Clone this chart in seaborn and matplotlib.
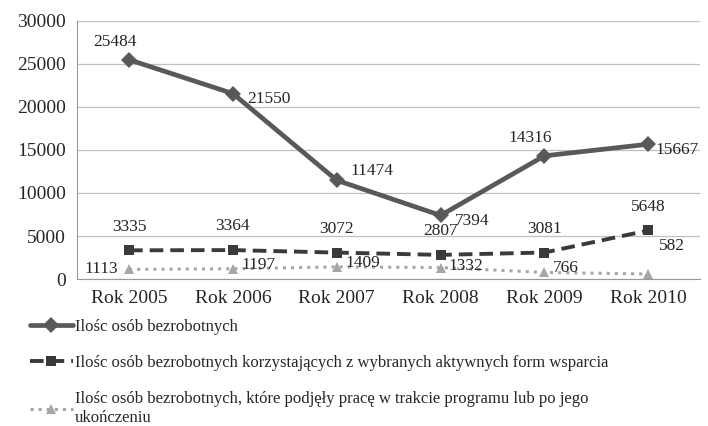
import matplotlib
matplotlib.use("Agg")
import matplotlib.pyplot as plt
import seaborn as sns
import pandas as pd

years = ["Rok 2005", "Rok 2006", "Rok 2007", "Rok 2008", "Rok 2009", "Rok 2010"]
bezrobotni = [25484, 21550, 11474, 7394, 14316, 15667]
aktywne_formy = [3335, 3364, 3072, 2807, 3081, 5648]
podjeli_prace = [1113, 1197, 1409, 1332, 766, 582]

names = ["Ilośc osób bezrobotnych",
         "Ilośc osób bezrobotnych korzystających z wybranych aktywnych form wsparcia",
         "Ilośc osób bezrobotnych, które podjęły pracę w trakcie programu lub po jego\nukończeniu"]

sns.set_style("white")
plt.rcParams['font.family'] = ['Liberation Serif', 'DejaVu Serif']

fig = plt.figure(figsize=(7.08, 4.26), dpi=100)
ax = fig.add_axes([0.109, 0.345, 0.88, 0.606])

df = pd.DataFrame({"rok": years, "s1": bezrobotni, "s2": aktywne_formy, "s3": podjeli_prace})
x = list(range(len(years)))

sns.lineplot(x=x, y=df["s1"], ax=ax, color="#595959", lw=3.4, marker="D", markersize=8,
             markeredgewidth=0, label=names[0])
sns.lineplot(x=x, y=df["s2"], ax=ax, color="#3a3a3a", lw=2.8, marker="s", markersize=7,
             markeredgewidth=0, label=names[1])
ax.lines[-1].set_dashes([3.5, 1.8])
sns.lineplot(x=x, y=df["s3"], ax=ax, color="#a6a6a6", lw=2.2, marker="^", markersize=7,
             markeredgewidth=0, label=names[2])
ax.lines[-1].set_linestyle(":")

ax.set_xlim(-0.5, 5.5)
ax.set_ylim(0, 30000)
ax.set_yticks(range(0, 30001, 5000))
ax.set_xticks(x)
ax.set_xticklabels(years)
ax.set_xlabel("")
ax.set_ylabel("")
ax.tick_params(axis="both", labelsize=14, length=0, pad=8)
ax.grid(axis="y", color="#c0c0c0", lw=0.9)
for s in ["top", "right"]:
    ax.spines[s].set_visible(False)
ax.spines["left"].set_color("#999999")
ax.spines["bottom"].set_color("#999999")

# etykiety danych
fs = 12.5
off1 = [(-10, 13), (10, -4), (10, 7), (10, -4), (-10, 13), (5, -4)]
for i, v in enumerate(bezrobotni):
    ax.annotate(str(v), (i, v), xytext=off1[i], textcoords="offset points",
                fontsize=fs, ha="left" if off1[i][0] > 0 else "center", va="center")
for i, v in enumerate(aktywne_formy):
    ax.annotate(str(v), (i, v), xytext=(0, 17), textcoords="offset points",
                fontsize=fs, ha="center", va="center")
off3 = [(-8, 0), (6, 3), (6, 3), (6, 1), (6, 3), (8, 20)]
for i, v in enumerate(podjeli_prace):
    ax.annotate(str(v), (i, v), xytext=off3[i], textcoords="offset points",
                fontsize=fs, ha="left" if off3[i][0] > 0 else "right", va="center")

h, l = ax.get_legend_handles_labels()
ax.get_legend().remove()
leg = fig.legend(h, l, loc="upper left", bbox_to_anchor=(0.042, 0.252), frameon=False,
                 fontsize=12, handlelength=2.6, handletextpad=0.1, labelspacing=1.2,
                 borderaxespad=0, borderpad=0)
for t in leg.get_texts():
    t.set_linespacing(1.3)

fig.savefig("out.png", dpi=100)
